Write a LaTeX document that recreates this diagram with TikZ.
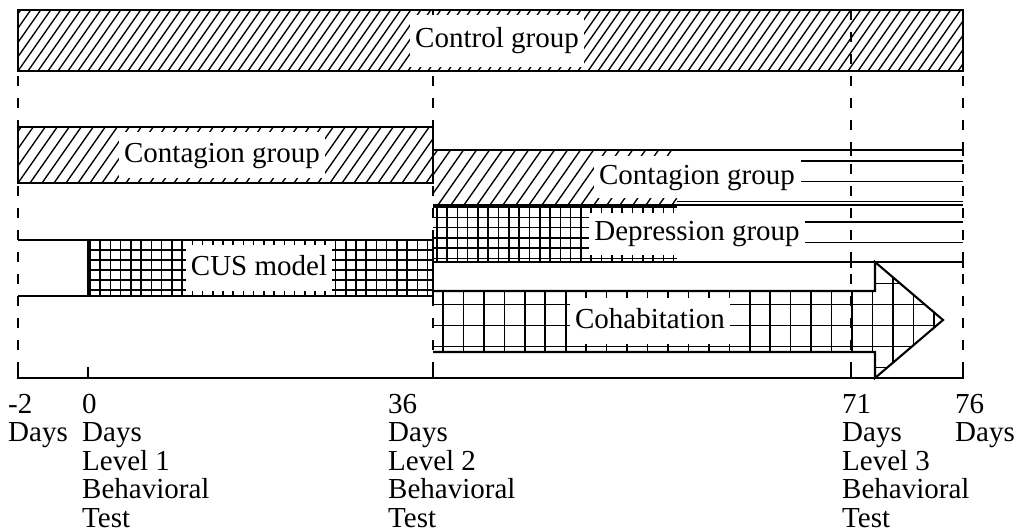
\documentclass[tikz,border=0pt]{standalone}
\usepackage{fontspec}
\setmainfont{Liberation Serif}
\newcommand\hatchbox[5]{%
  \begin{scope}
    \clip (#1,#2) rectangle (#3,#4);
    \pgfmathsetmacro\hsA{#1-60}
    \pgfmathsetmacro\hsB{#1-60+#5}
    \foreach \xx in {\hsA,\hsB,...,#3} \draw[hatchl] (\xx,#4) -- ++(49,-70);
  \end{scope}}
\newcommand\gridbox[8]{%
  \begin{scope}
    \clip (#1,#2) rectangle (#3,#4);
    \pgfmathsetmacro\gxA{#5}
    \pgfmathsetmacro\gxB{#5+#6}
    \pgfmathsetmacro\gyA{#7}
    \pgfmathsetmacro\gyB{#7+#8}
    \foreach \xx in {\gxA,\gxB,...,#3} \draw[gridl] (\xx,#2) -- (\xx,#4);
    \foreach \yy in {\gyA,\gyB,...,#4} \draw[gridl] (#1,\yy) -- (#3,\yy);
  \end{scope}}
\begin{document}
\begin{tikzpicture}[x=1pt,y=-1pt,line cap=butt,
  bord/.style={line width=2.1pt},
  hatchl/.style={line width=1.35pt},
  gridl/.style={line width=1.6pt},
  thinl/.style={line width=1.3pt},
  dashv/.style={line width=2pt,dash pattern=on 10pt off 12pt},
  lbl/.style={fill=white,inner xsep=5pt,inner ysep=0pt,text height=20pt,text depth=6pt,minimum height=46pt,font=\fontsize{29}{29}\selectfont},
  axl/.style={align=left,anchor=base west,inner sep=0pt,font=\fontsize{29}{28.5}\selectfont}]
\useasboundingbox (0,0) rectangle (1016,532);

% fills
\hatchbox{18}{10}{963}{71}{10}
\hatchbox{18}{127}{433}{183}{12}
\hatchbox{433}{150}{677}{205}{13}
\gridbox{88}{240}{433}{296}{90}{10.23}{250}{10}
\gridbox{433}{205}{677}{262}{436.7}{10.3}{207}{10.3}
\begin{scope}
  \clip (433,291) -- (875,291) -- (875,262) -- (943,320) -- (875,378) -- (875,352) -- (433,352) -- cycle;
  \foreach \xx in {443,463.45,...,945} \draw[gridl] (\xx,262) -- (\xx,378);
  \foreach \yy in {283.5,304.5,325.5,346.5,367.5} \draw[gridl] (433,\yy) -- (945,\yy);
\end{scope}

% dashed verticals
\coordinate (d1t) at (18,10);   \coordinate (d1b) at (18,378);
\coordinate (d2t) at (433,10);  \coordinate (d2b) at (433,378);
\coordinate (d3t) at (851,10);  \coordinate (d3b) at (851,378);
\coordinate (d4t) at (963,10);  \coordinate (d4b) at (963,378);
\draw[dashv] (d1t) -- (d1b);
\draw[dashv] (d2t) -- (d2b);
\draw[dashv] (d3t) -- (d3b);
\draw[dashv] (d4t) -- (d4b);

% borders
\draw[bord] (18,10) rectangle (963,71);
\draw[bord] (18,127) rectangle (433,183);
\draw[bord] (433,150) -- (963,150);
\draw[bord] (433,205) -- (963,205);
\draw[thinl] (801,161) -- (963,161);
\draw[thinl] (801,181.5) -- (963,181.5);
\draw[thinl] (677,201.5) -- (963,201.5);
\draw[thinl] (801,222) -- (963,222);
\draw[thinl] (801,242.5) -- (963,242.5);
\draw[bord] (433,262) -- (963,262);
\draw[bord] (18,240) -- (88,240);
\draw[bord] (18,296) -- (88,296);
\draw[bord] (88,240) rectangle (433,296);
\draw[bord] (433,291) -- (875,291) -- (875,262) -- (943,320) -- (875,378) -- (875,352) -- (433,352);
\draw[bord] (18,378) -- (963,378);
\foreach \xx in {18,88,433,851,963} \draw[bord] (\xx,379) -- (\xx,367);
\foreach \xx in {851,963} {\draw[bord] (\xx,145) -- (\xx,156); \draw[bord] (\xx,256) -- (\xx,268);}

% labels in bars
\node[lbl,minimum height=52pt] (tctrl) at (497,41) {Control group};
\node[lbl] (tcon1) at (222,155) {Contagion group};
\node[lbl,minimum height=42pt] (tcon2) at (697,177) {Contagion group};
\node[lbl,minimum height=42pt] (tdep) at (697,233.5) {Depression group};
\node[lbl] (tcus) at (259,268) {CUS model};
\node[lbl] (tcoh) at (650,321) {Cohabitation};

% axis labels (anchor is the baseline of the last line)
\node[axl] (lm2) at (8,441.5) {-2\\Days};
\node[axl] (l0) at (82,527) {0\\Days\\Level 1\\Behavioral\\Test};
\node[axl] (l36) at (388,527) {36\\Days\\Level 2\\Behavioral\\Test};
\node[axl] (l71) at (842,527) {71\\Days\\Level 3\\Behavioral\\Test};
\node[axl] (l76) at (955,441.5) {76\\Days};
\end{tikzpicture}
\end{document}
